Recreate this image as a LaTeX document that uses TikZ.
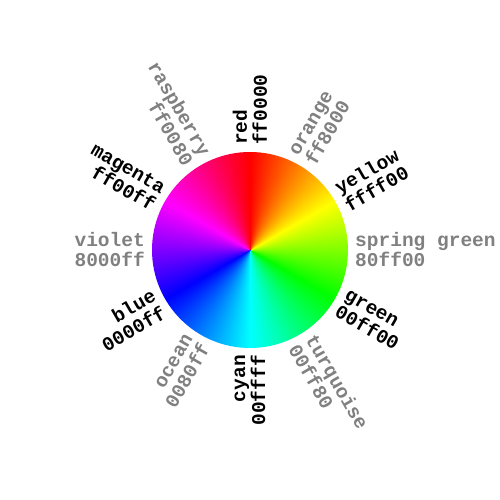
\documentclass[tikz,border=0pt]{standalone}
\usepackage{fontspec}
\setmonofont{Liberation Mono}
\definecolor{lblgray}{HTML}{808080}
\pgfdeclarefunctionalshading{colorwheel}{\pgfpoint{-50bp}{-50bp}}{\pgfpoint{50bp}{50bp}}{}{
  0.0001 add atan 60 div
  dup 3 sub abs 1 sub
  dup abs exch 1 sub abs sub 1 add 2 div
  exch
  dup 2 sub abs neg 2 add
  dup abs exch 1 sub abs sub 1 add 2 div
  exch
  4 sub abs neg 2 add
  dup abs exch 1 sub abs sub 1 add 2 div
}
\tikzset{
  lbl/.style={inner sep=0pt, font=\ttfamily\bfseries\fontsize{19.5}{20}\selectfont},
  rlbl/.style={lbl, anchor=west, align=left},
  llbl/.style={lbl, anchor=east, align=right},
  prim/.style={text=black},
  tert/.style={text=lblgray},
}
\begin{document}
\begin{tikzpicture}[x=1pt,y=1pt]
\useasboundingbox (0,0) rectangle (500,500);
\begin{scope}[shift={(250,250)}]
\shade[shading=colorwheel] (0,0) circle[radius=98];
\node[rlbl, prim, rotate=90]  (red)     at (90:105)  {red\\ff0000};
\node[rlbl, tert, rotate=60]  (orange)  at (60:105)  {orange\\ff8000};
\node[rlbl, prim, rotate=30]  (yellow)  at (30:105)  {yellow\\ffff00};
\node[rlbl, tert, rotate=0]   (spring)  at (0:105)   {spring green\\80ff00};
\node[rlbl, prim, rotate=-30] (green)   at (-30:105) {green\\00ff00};
\node[rlbl, tert, rotate=-60] (turq)    at (-60:105) {turquoise\\00ff80};
\node[llbl, prim, rotate=90]  (cyan)    at (270:105) {cyan\\00ffff};
\node[llbl, tert, rotate=60]  (ocean)   at (240:105) {ocean\\0080ff};
\node[llbl, prim, rotate=30]  (blue)    at (210:105) {blue\\0000ff};
\node[llbl, tert, rotate=0]   (violet)  at (180:105) {violet\\8000ff};
\node[llbl, prim, rotate=-30] (magenta) at (150:105) {magenta\\ff00ff};
\node[llbl, tert, rotate=-60] (rasp)    at (120:105) {raspberry\\ff0080};
\end{scope}
\end{tikzpicture}
\end{document}
